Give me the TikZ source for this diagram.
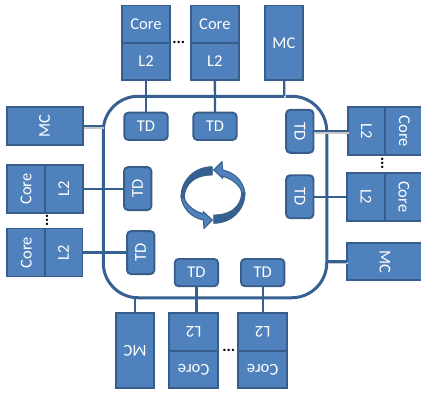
\documentclass[tikz,border=0pt]{standalone}
\usepackage{fontspec}
\usepackage{graphicx}
\setmainfont{Carlito}
\definecolor{boxfill}{HTML}{4F81BD}
\definecolor{boxline}{HTML}{385D8A}
\definecolor{ringline}{HTML}{376092}
\definecolor{arrowdark}{HTML}{35608F}
\tikzset{
  x=1pt,y=-1pt,
  unit/.style={draw=boxline,fill=boxfill,line width=1.9pt,inner sep=0pt,outer sep=0pt,text=white,
    font=\fontsize{16.5}{16.5}\selectfont,anchor=center},
  hunit/.style={unit,minimum width=48.6pt,minimum height=37.5pt},
  vunit/.style={unit,minimum width=37.8pt,minimum height=48pt},
  mctall/.style={unit,minimum width=38.3pt,minimum height=74.5pt},
  mcwide/.style={unit,minimum width=76pt,minimum height=37.8pt},
  tdh/.style={unit,rounded corners=4pt,minimum width=43.4pt,minimum height=27.3pt},
  tdv/.style={unit,rounded corners=4pt,minimum width=27.3pt,minimum height=43pt},
  link/.style={draw=ringline,line width=2.3pt},
  shlink/.style={link,preaction={draw=black!22,line width=2pt,transform canvas={shift={(1.2pt,-1.4pt)}}}},
  ring/.style={draw=ringline,line width=3pt,rounded corners=35pt,inner sep=0pt,outer sep=0pt,
    minimum width=223.5pt,minimum height=201.5pt},
  dots/.style={inner sep=0pt,font=\fontsize{16}{16}\selectfont\bfseries,text=black},
  halfarrow/.pic={
    \fill[arrowdark,draw=boxline,line width=.8pt] (-2,-85) .. controls (-55,-85) and (-96,-45) .. (-96,5)
      .. controls (-90,15) and (-88,15) .. (-84,20) .. controls (-92,-15) and (-70,-60) .. (-2,-60) -- cycle;
    \fill[boxfill,draw=boxline,line width=1pt] (-96,5) .. controls (-92,40) and (-65,68) .. (-29,75)
      -- (-27,100) -- (-2,75) -- (-29,50) -- (-29,56)
      .. controls (-55,50) and (-80,30) .. (-86,10) -- cycle;
  }
}
\newcommand{\rl}[1]{\rotatebox[origin=c]{90}{#1}}
\newcommand{\rr}[1]{\rotatebox[origin=c]{-90}{#1}}
\newcommand{\ru}[1]{\rotatebox[origin=c]{180}{#1}}
\begin{document}
\begin{tikzpicture}
\useasboundingbox (0,0) rectangle (421,394);
\clip (0,0) rectangle (421,394);
\node[ring] (frame) at (215,197) {};
% connectors
\node[hunit] (tc1) at (146,24.25) {Core};
\node[hunit] (tl1) at (146,61.5) {L2};
\node[hunit] (tc2) at (214.85,24.25) {Core};
\node[hunit] (tl2) at (214.85,61.5) {L2};
\node[mctall] (tmc) at (283.85,42.75) {MC};
\node[tdh] (ttd1) at (146,126.3) {TD};
\node[tdh] (ttd2) at (215,126.3) {TD};
\node[dots] (tdots) at (178.7,42) {...};
% left
\node[mcwide] (lmc) at (44.7,126.2) {\rl{MC}};
\node[vunit] (lc1) at (26,189) {\rl{Core}};
\node[vunit] (ll1) at (63.85,189) {\rl{L2}};
\node[vunit] (lc2) at (26.3,252.5) {\rl{Core}};
\node[vunit] (ll2) at (63.6,252.5) {\rl{L2}};
\node[tdv] (ltd1) at (137.7,188.6) {\rl{TD}};
\node[tdv] (ltd2) at (140.7,252.6) {\rl{TD}};
\node[dots,rotate=90] (ldots) at (47,220.5) {...};
% right
\node[vunit] (rl1) at (366.5,131.3) {\rr{L2}};
\node[vunit] (rc1) at (404.3,131.3) {\rr{Core}};
\node[vunit] (rl2) at (366,196.7) {\rr{L2}};
\node[vunit] (rc2) at (403.8,196.7) {\rr{Core}};
\node[mcwide] (rmc) at (385,261.5) {\rr{MC}};
\node[tdv] (rtd1) at (299.8,131.3) {\rr{TD}};
\node[tdv] (rtd2) at (299.8,196.7) {\rr{TD}};
\node[dots,rotate=90] (rdots) at (382.3,163.5) {...};
% bottom
\node[hunit] (bl1) at (193.65,332) {\ru{L2}};
\node[hunit] (bc1) at (193.65,369.35) {\ru{Core}};
\node[hunit] (bl2) at (262.65,332) {\ru{L2}};
\node[hunit] (bc2) at (262.65,369.35) {\ru{Core}};
\node[mctall] (bmc) at (135.15,350.65) {\ru{MC}};
\node[tdh] (btd1) at (196.4,272.6) {TD};
\node[tdh] (btd2) at (262.7,272.6) {TD};
\node[dots] (bdots) at (228.7,350) {...};
% connectors
\draw[link] (tl1.south) -- (ttd1.north);
\draw[link] (tl2.south) -- (ttd2.north);
\draw[shlink] (tmc.south) -- (tmc.south |- frame.north);
\draw[shlink] (lmc.east) -- (lmc.east -| frame.west);
\draw[link] (ll1.east) -- (ll1.east -| ltd1.west);
\draw[link] (ll2.east) -- (ll2.east -| ltd2.west);
\draw[shlink] (rtd1.east) -- (rtd1.east -| rl1.west);
\draw[link] (rtd2.east) -- (rtd2.east -| rl2.west);
\draw[shlink] (rmc.west) -- (rmc.west -| frame.east);
\draw[link] (bmc.north) -- (bmc.north |- frame.south);
\draw[link] (btd1.south) -- (btd1.south |- bl1.north);
\draw[link] (btd2.south) -- (btd2.south |- bl2.north);
% cycle arrows
\begin{scope}[shift={(213,195)},x=0.3333pt,y=-0.3333pt]
\pic {halfarrow};
\pic[rotate=180] {halfarrow};
\end{scope}
\end{tikzpicture}
\end{document}
